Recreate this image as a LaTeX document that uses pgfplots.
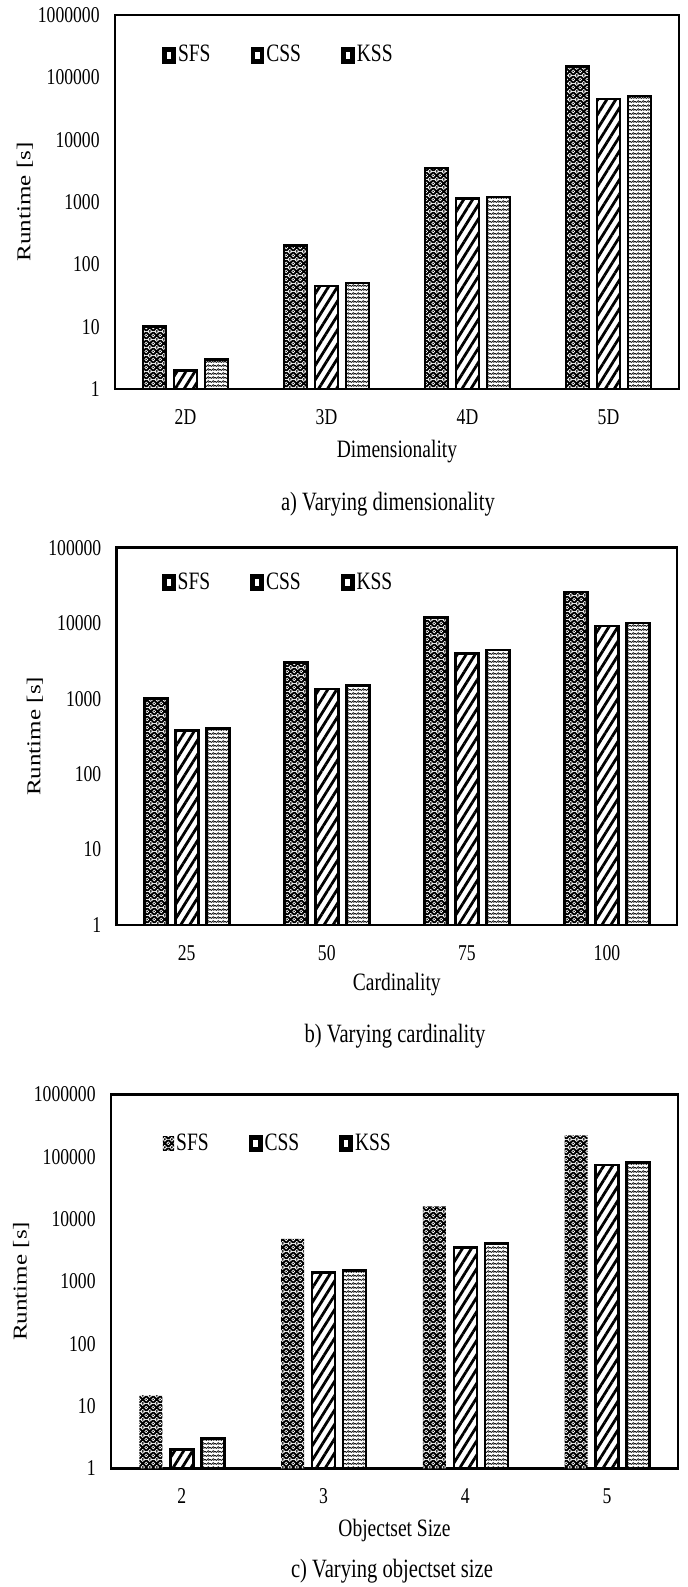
\documentclass[border=0pt]{standalone}
\usepackage{fontspec}
\setmainfont{Liberation Serif}[FakeStretch=0.78]
\newfontfamily\ylabfont{Liberation Serif}[FakeStretch=1.28]
\usepackage{pgfplots}
\pgfplotsset{compat=1.18}
\usetikzlibrary{patterns,patterns.meta}

\tikzdeclarepattern{
  name=sfs,
  type=colored,
  bottom left={(0pt,0pt)},
  top right={(3.6pt,4pt)},
  tile size={(3.6pt,4pt)},
  code={
    \fill[black] (0pt,0pt) rectangle (3.6pt,4pt);
    \fill[white] (0pt,0pt) circle (1.05pt);
    \fill[white] (3.6pt,0pt) circle (1.05pt);
    \fill[white] (0pt,4pt) circle (1.05pt);
    \fill[white] (3.6pt,4pt) circle (1.05pt);
    \fill[white] (1.8pt,2pt) circle (1.05pt);
    \fill[black] (0pt,0pt) circle (0.45pt);
    \fill[black] (3.6pt,0pt) circle (0.45pt);
    \fill[black] (0pt,4pt) circle (0.45pt);
    \fill[black] (3.6pt,4pt) circle (0.45pt);
    \fill[black] (1.8pt,2pt) circle (0.45pt);
  }
}
\tikzdeclarepattern{
  name=kss,
  type=colored,
  bottom left={(0pt,0pt)},
  top right={(2.4pt,2.2pt)},
  tile size={(2.4pt,2.2pt)},
  code={
    \draw[black, line width=0.42pt] (0pt,0.2pt) -- (1.2pt,1.3pt) -- (2.4pt,0.2pt);
    \fill[black] (1.2pt,0.2pt) circle (0.25pt);
  }
}

\newcommand{\tickfont}{\fontsize{11.3}{12}\selectfont}
\newcommand{\labfont}{\fontsize{12.5}{13}\selectfont}
\pgfplotsset{
  myrtaxis/.style={
    scale only axis,
    ymin=1,
    xmin=-0.5, xmax=3.5, xtick={0,1,2,3},
    ybar=4pt, bar width=11.5pt,
    axis line style={line width=1.3pt},
    major tick length=0pt, yminorticks=false,
    tick style={draw=none},
    yticklabel style={font=\tickfont, inner sep=0pt, anchor=east, xshift=-7.5pt},
    xticklabel style={font=\tickfont, inner sep=0pt, anchor=center, yshift=-14pt},
    xlabel style={font=\labfont, anchor=center},
    ylabel style={font=\ylabfont\fontsize{9.8}{10}\selectfont, anchor=center},
    legend columns=3,
    legend style={draw=none, fill=none, inner sep=0pt, anchor=west,
      font=\labfont,
      /tikz/every even column/.append style={column sep=19pt},
      nodes={inner sep=1pt}},
    legend cell align=left,
  },
  mysq/.style={legend image code/.code={\fill[black] (0pt,-3.6pt) rectangle (5.6pt,3.6pt);
      \fill[white] (2.3pt,-1.1pt) rectangle (3.3pt,1.1pt);}},
  mysqp/.style={legend image code/.code={\path[pattern=sfs] (0pt,-3.6pt) rectangle (5.6pt,3.6pt);}},
  sfsbar/.style={draw=black, line width=1.3pt, pattern=sfs, mysq},
  cssbar/.style={draw=black, line width=1.3pt, pattern={Lines[angle=58,distance=3.8pt,line width=1.4pt]}, mysq},
  kssbar/.style={draw=black, line width=1.3pt, pattern=kss, mysq},
}

\begin{document}
\begin{tikzpicture}[x=1pt,y=1pt]
\useasboundingbox (0,0) rectangle (344,-793.5);

% ---------- a) ----------
\begin{axis}[ymode=log, myrtaxis, at={(57.5pt,-7.5pt)}, anchor=north west,
  width=282pt, height=187pt, ymax=1000000,
  ytick={1,10,100,1000,10000,100000,1000000},
  yticklabels={1,10,100,1000,10000,100000,1000000},
  xticklabels={2D,3D,4D,5D},
  xlabel={Dimensionality}, ylabel={Runtime [s]},
  xlabel style={at={(axis description cs:0.5,-0.1684)}},
  ylabel style={at={(axis description cs:-0.1596,0.5)}},
  legend style={at={(axis description cs:0.083,0.893)}},
  legend entries={SFS,CSS,KSS}]
\addplot[sfsbar] coordinates {(0,10) (1,200) (2,3500) (3,150000)};
\addplot[cssbar] coordinates {(0,2) (1,45) (2,1150) (3,45000)};
\addplot[kssbar] coordinates {(0,3) (1,50) (2,1200) (3,50000)};
\end{axis}

% ---------- b) ----------
\begin{axis}[ymode=log, myrtaxis, at={(58.35pt,-273.85pt)}, anchor=north west,
  width=280.15pt, height=188.65pt, ymax=100000,
  ytick={1,10,100,1000,10000,100000},
  yticklabels={1,10,100,1000,10000,100000},
  xticklabels={25,50,75,100},
  xlabel={Cardinality}, ylabel={Runtime [s]},
  xlabel style={at={(axis description cs:0.5,-0.1585)}},
  ylabel style={at={(axis description cs:-0.1458,0.5)}},
  legend style={at={(axis description cs:0.080,0.907)}},
  legend entries={SFS,CSS,KSS}]
\addplot[sfsbar] coordinates {(0,1000) (1,3000) (2,12000) (3,26000)};
\addplot[cssbar] coordinates {(0,380) (1,1350) (2,4000) (3,9200)};
\addplot[kssbar] coordinates {(0,400) (1,1500) (2,4400) (3,10000)};
\end{axis}

% ---------- c) ----------
\begin{axis}[ymode=log, myrtaxis, at={(55.5pt,-547.15pt)}, anchor=north west,
  width=283.5pt, height=187pt, ymax=1000000,
  ytick={1,10,100,1000,10000,100000,1000000},
  yticklabels={1,10,100,1000,10000,100000,1000000},
  xticklabels={2,3,4,5},
  xlabel={Objectset Size}, ylabel={Runtime [s]},
  xlabel style={at={(axis description cs:0.5,-0.1658)}},
  ylabel style={at={(axis description cs:-0.1587,0.5)}},
  legend style={at={(axis description cs:0.091,0.869)}},
  legend entries={SFS,CSS,KSS}]
\addplot[draw=none, pattern=sfs, mysqp] coordinates {(0,15) (1,4800) (2,16000) (3,220000)};
\addplot[cssbar] coordinates {(0,2) (1,1400) (2,3500) (3,73000)};
\addplot[kssbar] coordinates {(0,3) (1,1500) (2,4000) (3,80000)};
\end{axis}

\node[font=\fontsize{13.2}{14}\selectfont] at (194,-252) {a) Varying dimensionality};
\node[font=\fontsize{13.2}{14}\selectfont] at (197.5,-518) {b) Varying cardinality};
\node[font=\fontsize{13.2}{14}\selectfont] at (196,-785.5) {c) Varying objectset size};
\end{tikzpicture}
\end{document}
